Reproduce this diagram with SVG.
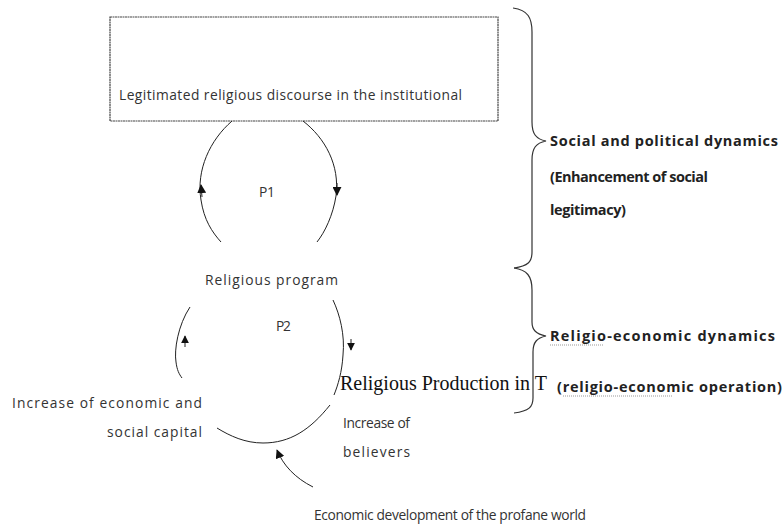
<svg xmlns="http://www.w3.org/2000/svg" width="783" height="524" viewBox="0 0 783 524">
<defs>
<style>
.t{font-family:"Open Sans","Liberation Sans",sans-serif;font-size:13.8px;fill:#333}
.b{font-family:"Open Sans","Liberation Sans",sans-serif;font-size:14.5px;font-weight:bold;fill:#222}
.s{font-family:"Liberation Serif","Times New Roman",serif;font-size:20px;fill:#111}
.ln{fill:none;stroke:#222;stroke-width:1}
.br{fill:none;stroke:#333;stroke-width:1.2}
.sq{fill:none;stroke:#999;stroke-width:1;stroke-dasharray:1 1}
</style>
<marker id="ah" viewBox="0 0 10 10" refX="9" refY="5" markerWidth="9" markerHeight="9" orient="auto" markerUnits="userSpaceOnUse">
<path d="M0,0 L10,5 L0,10 z" fill="#111"/>
</marker>
<marker id="ahs" viewBox="0 0 10 10" refX="9" refY="5" markerWidth="8" markerHeight="8" orient="auto" markerUnits="userSpaceOnUse">
<path d="M0,0 L10,5 L0,10 z" fill="#111"/>
</marker>
</defs>
<rect width="783" height="524" fill="#fff"/>

<g id="box-legitimated">
<rect x="110" y="17" width="388" height="104" fill="#fff" stroke="#444" stroke-width="1.2" stroke-dasharray="2 0.5"/>
<text class="t" x="119" y="100" textLength="343">Legitimated religious discourse in the institutional</text>
</g>

<g id="loop-p1">
<text class="t" x="259" y="197" textLength="16">P1</text>
</g>

<g id="node-religious-program">
<text class="t" x="205" y="285" textLength="133">Religious program</text>
</g>

<g id="loop-p2">
<text class="t" x="276" y="331" textLength="15">P2</text>
</g>

<g id="node-economic-social-capital">
<text class="t" x="12" y="408" textLength="190">Increase of economic and</text>
<text class="t" x="107" y="437" textLength="95">social capital</text>
</g>

<g id="node-religious-production">
<text class="s" x="340" y="390">Religious Production in T</text>
</g>

<g id="node-believers">
<text class="t" x="343" y="428" textLength="67">Increase of</text>
<text class="t" x="343" y="457" textLength="67">believers</text>
</g>

<g id="node-economic-development">
<text class="t" x="314" y="520" textLength="272">Economic development of the profane world</text>
</g>

<g id="label-social-political">
<path class="br" d="M513,8 C528,10 532,18 532,32 L532,122 C532,134 536,139 546,141 C536,143 532,148 532,160 L532,252 C532,262 528,266 514,268"/>
<text class="b" x="550" y="146" textLength="228">Social and political dynamics</text>
<text class="b" x="550" y="182" textLength="158">(Enhancement of social</text>
<text class="b" x="550" y="215" textLength="76">legitimacy)</text>
</g>

<g id="label-religio-economic">
<path class="br" d="M514,268 C527,270 532,276 532,290 L532,322 C532,330 536,334 546,336 C537,338 533,342 533,352 L533,398 C533,407 529,411 514,413"/>
<text class="b" x="550" y="341" textLength="225">Religio-economic dynamics</text>
<path class="sq" d="M550,345 L604,345"/>
<text class="b" x="557" y="392" textLength="225">(religio-economic operation)</text>
<path class="sq" d="M563,396 L672,396"/>
</g>

<g id="connectors">
<path class="ln" d="M232,121 C210,140 196,170 201,200 C204,220 212,232 221,242"/>
<path class="ln" d="M303,121 C325,138 340,165 336,196 C333,215 325,232 317,242"/>
<path class="ln" d="M202,197 L201,185" marker-end="url(#ah)"/>
<path class="ln" d="M337,183 L337,195" marker-end="url(#ah)"/>
<path class="ln" d="M190,307 C178,325 174,350 176,362 C177,370 179,374 182,378"/>
<path class="ln" d="M333,300 C340,315 345,335 343,355 C342,372 338,385 334,395"/>
<path class="ln" d="M185,347 L185,336" marker-end="url(#ahs)"/>
<path class="ln" d="M351,339 L351,350" marker-end="url(#ahs)"/>
<path class="ln" d="M330,405 C310,430 290,443 263,443 C245,443 230,436 217,428"/>
<path class="ln" d="M313,487 C295,478 283,465 277,450" stroke-width="1.4" marker-end="url(#ah)"/>
</g>
</svg>
